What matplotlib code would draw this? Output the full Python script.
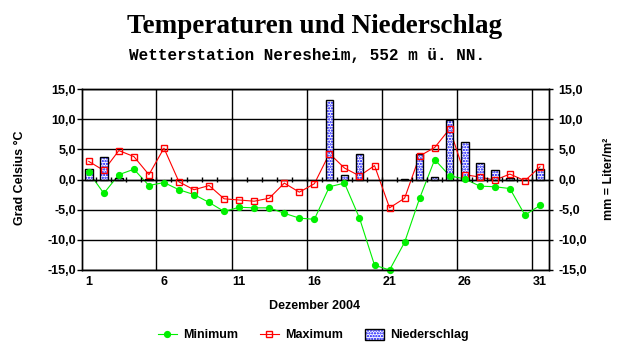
import matplotlib
matplotlib.use("Agg")
import matplotlib.pyplot as plt
import numpy as np
from matplotlib.lines import Line2D
from matplotlib.patches import Patch
from matplotlib.legend_handler import HandlerTuple

plt.rcParams["hatch.linewidth"] = 1.1

days = list(range(1, 32))
t_min = [1.2, -2.3, 0.8, 1.7, -1.0, -0.5, -1.7, -2.5, -3.8, -5.3, -4.6, -4.7, -4.7, -5.6, -6.4, -6.6,
         -1.2, -0.6, -6.4, -14.2, -15.0, -10.4, -3.1, 3.3, 0.6, 0.1, -1.1, -1.2, -1.5, -5.9, -4.3]
t_max = [3.0, 1.5, 4.8, 3.8, 0.8, 5.2, -0.4, -1.7, -1.0, -3.2, -3.4, -3.6, -3.1, -0.6, -2.1, -0.7,
         4.3, 1.9, 0.6, 2.3, -4.7, -3.1, 3.9, 5.3, 8.4, 0.8, 0.4, -0.1, 0.9, -0.2, 2.1]
precip = [1.8, 3.8, 0.3, 0.0, 0.1, 0.0, 0.0, 0.0, 0.0, 0.0, 0.0, 0.0, 0.0, 0.0, 0.0, 0.0,
          13.2, 0.7, 4.3, 0.0, 0.0, 0.1, 4.2, 0.4, 9.8, 6.2, 2.8, 1.5, 0.3, 0.0, 1.8]
x_labels = [1, 6, 11, 16, 21, 26, 31]
y_ticks = [-15, -10, -5, 0, 5, 10, 15]

FONT = "Liberation Sans"
GREEN = "#00f000"
RED = "#ff0000"
BLUE = "#0000ff"
HATCH = "......"
fig = plt.figure(figsize=(6.29, 3.57), dpi=100)
fig.patch.set_facecolor("white")
ax = fig.add_axes([82 / 629, 87 / 357, (549 - 82) / 629, (270 - 89) / 357])

d = np.array(days, dtype=float)
p = np.array(precip)
mask = p > 0

# lines below the bars, markers on top (as in the reference)
ax.plot(d, t_max, color=RED, lw=0.8, zorder=1.8)
ax.plot(d, t_min, color=GREEN, lw=0.8, zorder=1.8)

ax.bar(d[mask], p[mask], width=0.5, facecolor="white", edgecolor=BLUE,
       hatch=HATCH, linewidth=0, zorder=2)
ax.bar(d[mask], p[mask], width=0.5, fill=False, edgecolor="black", linewidth=1.0, zorder=2.1)

# zero line with day ticks
ax.axhline(0, color="black", lw=1.0, zorder=2.2)
ax.vlines(d[:-1] + 0.5, -0.35, 0.35, color="black", lw=1.0, zorder=2.2)

ax.plot(d, t_max, ls="none", marker="s", markersize=4.2, markerfacecolor="none",
        markeredgecolor=RED, markeredgewidth=1.0, zorder=3, clip_on=False)
ax.plot(d, t_min, ls="none", marker="o", markersize=4.2, markerfacecolor=GREEN,
        markeredgecolor=GREEN, zorder=3.1, clip_on=False)

ax.set_xlim(0.55, 31.6)
ax.set_ylim(-15, 15)
ax.set_xticks(x_labels)
ax.set_xticklabels([str(v) for v in x_labels], fontfamily=FONT, fontweight="bold", fontsize=9)
ax.set_xticks(d[4:-1:5] + 0.5, minor=True)
ax.tick_params(axis="x", which="both", length=0, pad=4)
ax.set_yticks(y_ticks)
ax.set_yticklabels([f"{v:.1f}".replace(".", ",") for v in y_ticks], fontfamily=FONT,
                   fontweight="bold", fontsize=9)
ax.tick_params(axis="y", length=3.5, width=1.0, pad=1)
ax.grid(True, which="major", axis="y", color="black", lw=1.0)
ax.grid(True, which="minor", axis="x", color="black", lw=1.0)
ax.set_axisbelow(True)
for s in ax.spines.values():
    s.set_color("black")
    s.set_linewidth(1.0)

ax2 = ax.twinx()
ax2.set_ylim(-15, 15)
ax2.set_yticks(y_ticks)
ax2.set_yticklabels([f"{v:.1f}".replace(".", ",") for v in y_ticks], fontfamily=FONT,
                    fontweight="bold", fontsize=9)
ax2.tick_params(axis="y", length=3, width=1.0, pad=4)
for s in ax2.spines.values():
    s.set_linewidth(1.0)

fig.text(314.5 / 629, 1 - 33.3 / 357, "Temperaturen und Niederschlag", ha="center", va="baseline",
         fontfamily="Liberation Serif", fontweight="bold", fontsize=19.5)
fig.text(307.5 / 629, 1 - 60 / 357, "Wetterstation Neresheim, 552 m ü. NN.", ha="center",
         va="baseline", fontfamily="Liberation Mono", fontweight="bold", fontsize=11.5)
fig.text(20 / 629, 1 - 177.5 / 357, "Grad Celsius °C", rotation=90, ha="center", va="center",
         fontfamily=FONT, fontweight="bold", fontsize=9)
fig.text(609 / 629, 1 - 179 / 357, "mm = Liter/m²", rotation=90, ha="center", va="center",
         fontfamily=FONT, fontweight="bold", fontsize=9)
fig.text(315 / 629, 1 - 306 / 357, "Dezember 2004", ha="center", va="center",
         fontfamily=FONT, fontweight="bold", fontsize=9)

handles = [
    Line2D([], [], color=GREEN, lw=0.8, marker="o", markersize=4.2, markerfacecolor=GREEN,
           markeredgecolor=GREEN),
    Line2D([], [], color=RED, lw=0.8, marker="s", markersize=4.2, markerfacecolor="none",
           markeredgecolor=RED),
    (Patch(facecolor="white", edgecolor=BLUE, hatch=HATCH, linewidth=0),
     Patch(fill=False, edgecolor="black", linewidth=1.0)),
]
leg = fig.legend(handles, ["Minimum", "Maximum", "Niederschlag"], loc="center",
                 bbox_to_anchor=(313.5 / 629, 1 - 335 / 357), ncol=3, frameon=False,
                 handlelength=1.5, handletextpad=0.56, columnspacing=1.7, handleheight=1.0,
                 handler_map={tuple: HandlerTuple(ndivide=1, pad=0)},
                 prop={"family": FONT, "weight": "bold", "size": 9})

fig.savefig("out.png", dpi=100, facecolor="white")
